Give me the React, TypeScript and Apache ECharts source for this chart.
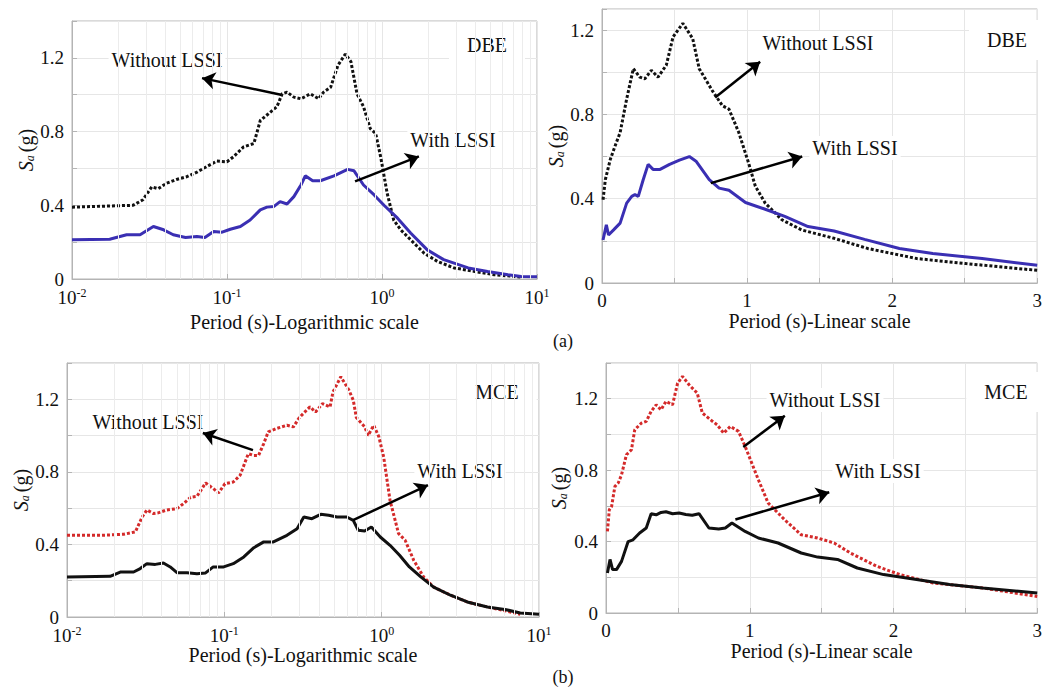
import React, { useEffect, useRef } from "react";
import * as echarts from "echarts";

const FONT = "'Liberation Serif', 'Times New Roman', serif";

// Spectral acceleration Sa (g) against period T (s), pairs [T, Sa]
// DBE level
const dbeWithout: [number, number][] = [
  [0.01, 0.39], [0.0248, 0.4], [0.0287, 0.43], [0.0327, 0.5], [0.036, 0.49], [0.0408, 0.52],
  [0.0473, 0.54], [0.055, 0.555], [0.064, 0.58], [0.074, 0.61], [0.086, 0.64], [0.1, 0.636],
  [0.11, 0.663], [0.128, 0.717], [0.149, 0.735], [0.164, 0.86], [0.181, 0.89], [0.21, 0.935],
  [0.227, 1.005], [0.244, 1.014], [0.27, 0.987], [0.3, 0.978], [0.345, 1.005], [0.39, 0.978],
  [0.42, 1.014], [0.466, 1.04], [0.52, 1.16], [0.58, 1.22], [0.63, 1.18], [0.69, 1.005],
  [0.76, 0.935], [0.84, 0.816], [0.91, 0.79], [0.98, 0.663], [1.08, 0.465], [1.19, 0.32],
  [1.32, 0.267], [1.53, 0.213], [1.87, 0.14], [2.28, 0.095], [2.92, 0.06], [3.96, 0.041],
  [5.3, 0.023], [7.9, 0.011],
];
const dbeWith: [number, number][] = [
  [0.01, 0.213], [0.0175, 0.216], [0.0225, 0.24], [0.0275, 0.24], [0.0335, 0.285], [0.039, 0.267],
  [0.045, 0.24], [0.054, 0.225], [0.064, 0.23], [0.072, 0.225], [0.082, 0.258], [0.093, 0.254],
  [0.105, 0.27], [0.122, 0.285], [0.141, 0.32], [0.164, 0.375], [0.181, 0.39], [0.2, 0.393],
  [0.22, 0.42], [0.244, 0.407], [0.27, 0.447], [0.3, 0.51], [0.32, 0.56], [0.357, 0.533],
  [0.4, 0.533], [0.49, 0.56], [0.6, 0.595], [0.66, 0.587], [0.76, 0.51], [0.89, 0.456],
  [1.03, 0.4], [1.26, 0.33], [1.53, 0.25], [1.96, 0.158], [2.5, 0.105], [3.6, 0.06],
  [4.8, 0.041], [6.5, 0.023], [7.9, 0.014], [10, 0.012],
];
const dbeLinWithout: [number, number][] = [
  [0.007, 0.395], [0.023, 0.49], [0.057, 0.586], [0.09, 0.65], [0.125, 0.714], [0.17, 0.873],
  [0.216, 1.017], [0.26, 0.977], [0.295, 0.969], [0.34, 1.009], [0.386, 0.977], [0.443, 1.033],
  [0.49, 1.168], [0.557, 1.232], [0.625, 1.16], [0.67, 1.017], [0.76, 0.913], [0.83, 0.841],
  [0.875, 0.825], [0.943, 0.714], [1.01, 0.57], [1.057, 0.459], [1.125, 0.379], [1.24, 0.3],
  [1.375, 0.252], [1.6, 0.212], [1.83, 0.164], [2.17, 0.116], [2.51, 0.092], [3.0, 0.06],
];
const dbeLinWith: [number, number][] = [
  [0.007, 0.204], [0.03, 0.276], [0.045, 0.228], [0.08, 0.252], [0.125, 0.284], [0.17, 0.379],
  [0.205, 0.411], [0.227, 0.419], [0.25, 0.411], [0.284, 0.49], [0.318, 0.563], [0.352, 0.539],
  [0.4, 0.539], [0.466, 0.563], [0.534, 0.583], [0.602, 0.6], [0.648, 0.578], [0.739, 0.49],
  [0.807, 0.45], [0.875, 0.44], [0.989, 0.382], [1.125, 0.35], [1.26, 0.316], [1.42, 0.268],
  [1.6, 0.247], [1.81, 0.207], [2.05, 0.164], [2.28, 0.14], [2.62, 0.116], [3.0, 0.084],
];

// MCE level
const mceWithout: [number, number][] = [
  [0.01, 0.45], [0.0163, 0.45], [0.0229, 0.456], [0.0272, 0.469], [0.03, 0.55], [0.0322, 0.59],
  [0.0355, 0.57], [0.038, 0.574], [0.043, 0.59], [0.05, 0.597], [0.055, 0.625], [0.061, 0.66],
  [0.067, 0.665], [0.076, 0.739], [0.085, 0.708], [0.092, 0.684], [0.101, 0.735], [0.114, 0.744],
  [0.126, 0.781], [0.142, 0.9], [0.154, 0.89], [0.165, 0.89], [0.178, 0.956], [0.19, 1.02],
  [0.216, 1.04], [0.25, 1.057], [0.275, 1.048], [0.3, 1.1], [0.35, 1.158], [0.38, 1.13],
  [0.42, 1.176], [0.47, 1.158], [0.49, 1.24], [0.55, 1.324], [0.62, 1.25], [0.66, 1.195],
  [0.69, 1.1], [0.78, 1.048], [0.82, 1.0], [0.89, 1.057], [0.96, 0.993], [1.03, 0.882],
  [1.13, 0.643], [1.28, 0.46], [1.41, 0.423], [1.6, 0.312], [1.85, 0.22], [2.14, 0.165],
  [2.74, 0.12], [3.5, 0.083], [4.7, 0.055], [6.2, 0.033], [7.6, 0.015],
];
const mceWith: [number, number][] = [
  [0.01, 0.22], [0.0188, 0.224], [0.0218, 0.248], [0.0265, 0.248], [0.0292, 0.267], [0.0322, 0.294],
  [0.0364, 0.29], [0.041, 0.298], [0.0453, 0.276], [0.05, 0.244], [0.058, 0.244], [0.067, 0.239],
  [0.076, 0.243], [0.085, 0.276], [0.099, 0.276], [0.114, 0.294], [0.133, 0.331], [0.154, 0.382],
  [0.178, 0.414], [0.205, 0.414], [0.25, 0.45], [0.29, 0.487], [0.32, 0.551], [0.36, 0.542],
  [0.41, 0.566], [0.46, 0.561], [0.52, 0.551], [0.6, 0.551], [0.66, 0.533], [0.71, 0.478],
  [0.78, 0.474], [0.86, 0.496], [0.98, 0.441], [1.13, 0.395], [1.3, 0.34], [1.5, 0.276],
  [1.78, 0.22], [2.14, 0.165], [2.74, 0.12], [3.5, 0.083], [4.7, 0.055], [6.2, 0.04],
  [7.6, 0.022], [10, 0.015],
];
const mceLinWithout: [number, number][] = [
  [0.01, 0.457], [0.023, 0.578], [0.039, 0.597], [0.062, 0.709], [0.085, 0.728], [0.108, 0.774],
  [0.142, 0.886], [0.177, 0.914], [0.2, 1.026], [0.245, 1.063], [0.28, 1.073], [0.314, 1.129],
  [0.349, 1.166], [0.383, 1.138], [0.417, 1.185], [0.463, 1.166], [0.498, 1.287], [0.532, 1.325],
  [0.578, 1.278], [0.635, 1.231], [0.67, 1.12], [0.727, 1.082], [0.773, 1.054], [0.819, 1.007],
  [0.865, 1.045], [0.922, 1.017], [0.968, 0.933], [1.06, 0.746], [1.128, 0.616], [1.243, 0.522],
  [1.358, 0.438], [1.472, 0.42], [1.587, 0.392], [1.7, 0.336], [1.885, 0.261], [2.046, 0.215],
  [2.275, 0.168], [2.62, 0.14], [3.0, 0.093],
];
const mceLinWith: [number, number][] = [
  [0.01, 0.224], [0.028, 0.3], [0.046, 0.243], [0.073, 0.243], [0.108, 0.289], [0.154, 0.4],
  [0.188, 0.41], [0.234, 0.448], [0.28, 0.476], [0.314, 0.556], [0.349, 0.55], [0.383, 0.563],
  [0.417, 0.567], [0.463, 0.556], [0.509, 0.56], [0.555, 0.552], [0.6, 0.547], [0.647, 0.556],
  [0.716, 0.476], [0.784, 0.47], [0.83, 0.476], [0.876, 0.504], [0.968, 0.457], [1.06, 0.42],
  [1.197, 0.392], [1.358, 0.336], [1.472, 0.313], [1.61, 0.3], [1.748, 0.252], [1.931, 0.215],
  [2.16, 0.187], [2.39, 0.159], [2.62, 0.14], [3.0, 0.112],
];

// Annotation arrows [start, end] in data units, one pair per panel
const arrowsDbeLog = [[[0.223, 1.0], [0.069, 1.09]], [[0.67, 0.53], [1.73, 0.665]]];
const arrowsDbeLin = [[[0.78, 0.88], [1.09, 1.05]], [[0.75, 0.474], [1.38, 0.6]]];
const arrowsMceLog = [[[0.152, 0.92], [0.073, 1.014]], [[0.658, 0.534], [1.97, 0.727]]];
const arrowsMceLin = [[[0.955, 0.93], [1.244, 1.104]], [[0.9, 0.524], [1.553, 0.676]]];

const logTickLabels = ["10", "10", "10", "10"];
const logTickExps = ["-2", "-1", "0", "1"];

const BLUE = "#3a2fb3";
const RED = "#d42a2a";
const FRAME = "#b4b4b4";
const GRID = "#e6e6e6";

const grids = [
  { left: 72, top: 21, width: 465, height: 258 },
  { left: 602, top: 9, width: 441, height: 274 },
  { left: 67, top: 363, width: 472, height: 254 },
  { left: 606, top: 363, width: 437, height: 250 },
];

function logXAxis(gridIndex: number, nameGap: number) {
  return {
    type: "log",
    logBase: 10,
    gridIndex,
    min: 0.01,
    max: 10,
    name: "Period (s)-Logarithmic scale",
    nameLocation: "middle",
    nameGap,
    nameTextStyle: { fontFamily: FONT, fontSize: 20, color: "#111" },
    axisLine: { show: true, lineStyle: { color: FRAME } },
    axisTick: { show: true, inside: true, length: 5, lineStyle: { color: FRAME } },
    axisLabel: {
      margin: 8,
      color: "#111",
      fontFamily: FONT,
      formatter: (v: number) => {
        const i = Math.round(Math.log10(v)) + 2;
        return `{b|${logTickLabels[i]}}{s|${logTickExps[i]}}`;
      },
      rich: {
        b: { fontFamily: FONT, fontSize: 19, color: "#111", lineHeight: 20 },
        s: { fontFamily: FONT, fontSize: 12, color: "#111", lineHeight: 12, verticalAlign: "top" },
      },
    },
    splitLine: { show: true, lineStyle: { color: GRID } },
  };
}

function linXAxis(gridIndex: number, nameGap: number) {
  return {
    type: "value",
    gridIndex,
    min: 0,
    max: 3,
    interval: 0.5,
    name: "Period (s)-Linear scale",
    nameLocation: "middle",
    nameGap,
    nameTextStyle: { fontFamily: FONT, fontSize: 20, color: "#111" },
    axisLine: { show: true, lineStyle: { color: FRAME } },
    axisTick: { show: true, inside: true, length: 5, lineStyle: { color: FRAME } },
    axisLabel: {
      margin: 8,
      fontFamily: FONT,
      fontSize: 19,
      color: "#111",
      formatter: (v: number) => (Math.abs(v - Math.round(v)) < 1e-6 ? String(Math.round(v)) : ""),
    },
    splitLine: { show: true, lineStyle: { color: GRID } },
  };
}

function yAxis(gridIndex: number, max: number, nameGap: number) {
  return {
    type: "value",
    gridIndex,
    min: 0,
    max,
    interval: 0.2,
    name: "{s|S}{a|a} {g|(g)}",
    nameLocation: "middle",
    nameGap,
    nameTextStyle: {
      fontFamily: FONT,
      rich: {
        s: { fontFamily: FONT, fontSize: 20, fontStyle: "italic", color: "#111" },
        a: { fontFamily: FONT, fontSize: 12, fontStyle: "italic", color: "#111", verticalAlign: "bottom", padding: [8, 0, 0, 0] },
        g: { fontFamily: FONT, fontSize: 20, color: "#111" },
      },
    },
    axisLine: { show: true, lineStyle: { color: FRAME } },
    axisTick: { show: true, inside: true, length: 5, lineStyle: { color: FRAME } },
    axisLabel: {
      margin: 8,
      fontFamily: FONT,
      fontSize: 19,
      color: "#111",
      formatter: (v: number) => {
        const k = v / 0.4;
        if (Math.abs(k - Math.round(k)) > 1e-6 || v > 1.2 + 1e-6) return "";
        return v === 0 ? "0" : v.toFixed(1);
      },
    },
    splitLine: { show: true, lineStyle: { color: GRID } },
  };
}

function curve(idx: number, data: [number, number][], color: string, dotted: boolean) {
  return {
    type: "line",
    xAxisIndex: idx,
    yAxisIndex: idx,
    data,
    showSymbol: false,
    symbol: "none",
    z: 3,
    lineStyle: { color, width: 3, type: dotted ? [3, 2] : "solid", cap: "butt" },
  };
}

// Faint gridlines at 2..9 within each decade of a log period axis
function minorLogGrid(idx: number) {
  const lines: { xAxis: number }[] = [];
  for (let e = -2; e < 1; e++) {
    for (let m = 2; m <= 9; m++) lines.push({ xAxis: m * Math.pow(10, e) });
  }
  return {
    type: "line",
    xAxisIndex: idx,
    yAxisIndex: idx,
    data: [],
    z: 1,
    markLine: {
      silent: true,
      symbol: ["none", "none"],
      label: { show: false },
      lineStyle: { color: "#ececec", width: 1, type: "solid" },
      data: lines,
    },
  };
}

function arrows(idx: number, pairs: number[][][]) {
  return {
    type: "line",
    xAxisIndex: idx,
    yAxisIndex: idx,
    data: [],
    z: 4,
    markLine: {
      silent: true,
      symbol: ["none", "arrow"],
      symbolSize: 13,
      label: { show: false },
      lineStyle: { color: "#000", width: 2.5, type: "solid" },
      data: pairs.map((p) => [{ coord: p[0] }, { coord: p[1] }]),
    },
  };
}

function label(text: string, x: number, y: number, size = 20, pad: number[] = [2, 3]) {
  return {
    type: "text",
    x,
    y,
    z: 2,
    style: {
      text,
      fontFamily: FONT,
      fontSize: size,
      fill: "#111",
      align: "center",
      verticalAlign: "middle",
      backgroundColor: "#fff",
      padding: pad,
    },
  };
}

export default function App() {
  const ref = useRef<HTMLDivElement>(null);

  useEffect(() => {
    if (!ref.current) return;
    const chart = echarts.init(ref.current, undefined, { renderer: "svg" });
    chart.setOption({
      animation: false,
      backgroundColor: "#fff",
      textStyle: { fontFamily: FONT },
      grid: grids.map((g) => ({ ...g, show: true, borderColor: FRAME, borderWidth: 1, containLabel: false })),
      xAxis: [logXAxis(0, 33), linXAxis(1, 28), logXAxis(2, 27), linXAxis(3, 27)],
      yAxis: [yAxis(0, 1.4, 36), yAxis(1, 1.3, 33), yAxis(2, 1.4, 34), yAxis(3, 1.4, 37)],
      series: [
        minorLogGrid(0),
        minorLogGrid(2),
        curve(0, dbeWithout, "#111", true),
        curve(0, dbeWith, BLUE, false),
        curve(1, dbeLinWithout, "#111", true),
        curve(1, dbeLinWith, BLUE, false),
        curve(2, mceWithout, RED, true),
        curve(2, mceWith, "#111", false),
        curve(3, mceLinWithout, RED, true),
        curve(3, mceLinWith, "#111", false),
        arrows(0, arrowsDbeLog),
        arrows(1, arrowsDbeLin),
        arrows(2, arrowsMceLog),
        arrows(3, arrowsMceLin),
      ],
      graphic: [
        label("Without LSSI", 167, 60),
        label("With LSSI", 453, 140),
        label("DBE", 487, 45, 20, [10, 18]),
        label("Without LSSI", 818, 43),
        label("With LSSI", 855, 148),
        label("DBE", 1007, 40, 20, [10, 18]),
        label("Without LSSI", 148, 422),
        label("With LSSI", 460, 471),
        label("MCE", 497, 392, 20, [10, 18]),
        label("Without LSSI", 825, 400),
        label("With LSSI", 878, 471),
        label("MCE", 1006, 392, 20, [10, 18]),
        label("(a)", 563, 341, 18),
        label("(b)", 563, 677, 18),
      ],
    });
    return () => chart.dispose();
  }, []);

  return (
    <div
      ref={ref}
      style={{ position: "fixed", left: 0, top: 0, width: 1045, height: 691, background: "#fff" }}
    />
  );
}
